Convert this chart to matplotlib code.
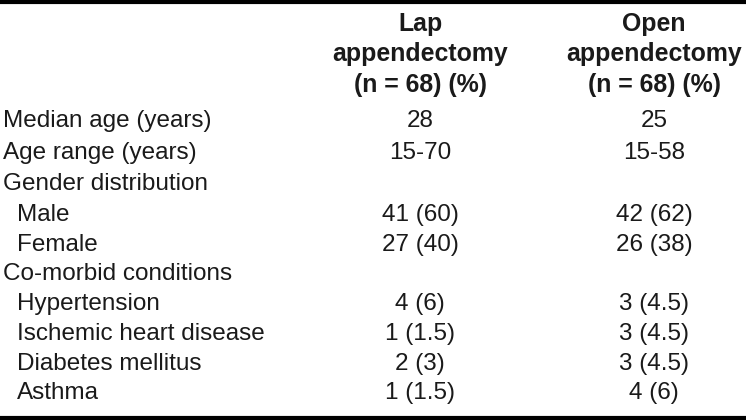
import matplotlib.pyplot as plt

plt.rcParams['font.family'] = ['Liberation Sans', 'DejaVu Sans']

headers = ["Lap\nappendectomy\n(n = 68) (%)", "Open\nappendectomy\n(n = 68) (%)"]
row_labels = ["Median age (years)", "Age range (years)", "Gender distribution",
              "Male", "Female", "Co-morbid conditions", "Hypertension",
              "Ischemic heart disease", "Diabetes mellitus", "Asthma"]
indented = [False, False, False, True, True, False, True, True, True, True]
lap_values = ["28", "15-70", "", "41 (60)", "27 (40)", "", "4 (6)", "1 (1.5)", "2 (3)", "1 (1.5)"]
open_values = ["25", "15-58", "", "42 (62)", "26 (38)", "", "3 (4.5)", "3 (4.5)", "3 (4.5)", "4 (6)"]

W, H = 746, 420
fig = plt.figure(figsize=(W / 100, H / 100), dpi=100)
ax = fig.add_axes([0, 0, 1, 1])
ax.set_xlim(0, W)
ax.set_ylim(H, 0)
ax.axis('off')

fs = 17.5
col_x = [420, 654]

# rules
ax.plot([0, W], [1.5, 1.5], color='black', lw=3)
ax.plot([0, W], [417.5, 417.5], color='black', lw=3)

# header
for x, h in zip(col_x, headers):
    for i, line in enumerate(h.split("\n")):
        ax.text(x, 24 + i * 30.5, line, ha='center', va='center', fontsize=17.9,
                fontweight='bold', color='#1a1a1a')

row_y = [121, 153, 184, 215, 245, 274, 304, 334, 364, 393]
for y, lab, ind, a, b in zip(row_y, row_labels, indented, lap_values, open_values):
    ax.text(17 if ind else 3, y, lab, ha='left', va='center', fontsize=fs, color='#1a1a1a')
    ax.text(col_x[0], y, a, ha='center', va='center', fontsize=fs, color='#1a1a1a')
    ax.text(col_x[1], y, b, ha='center', va='center', fontsize=fs, color='#1a1a1a')

fig.savefig("out.png", dpi=100)
